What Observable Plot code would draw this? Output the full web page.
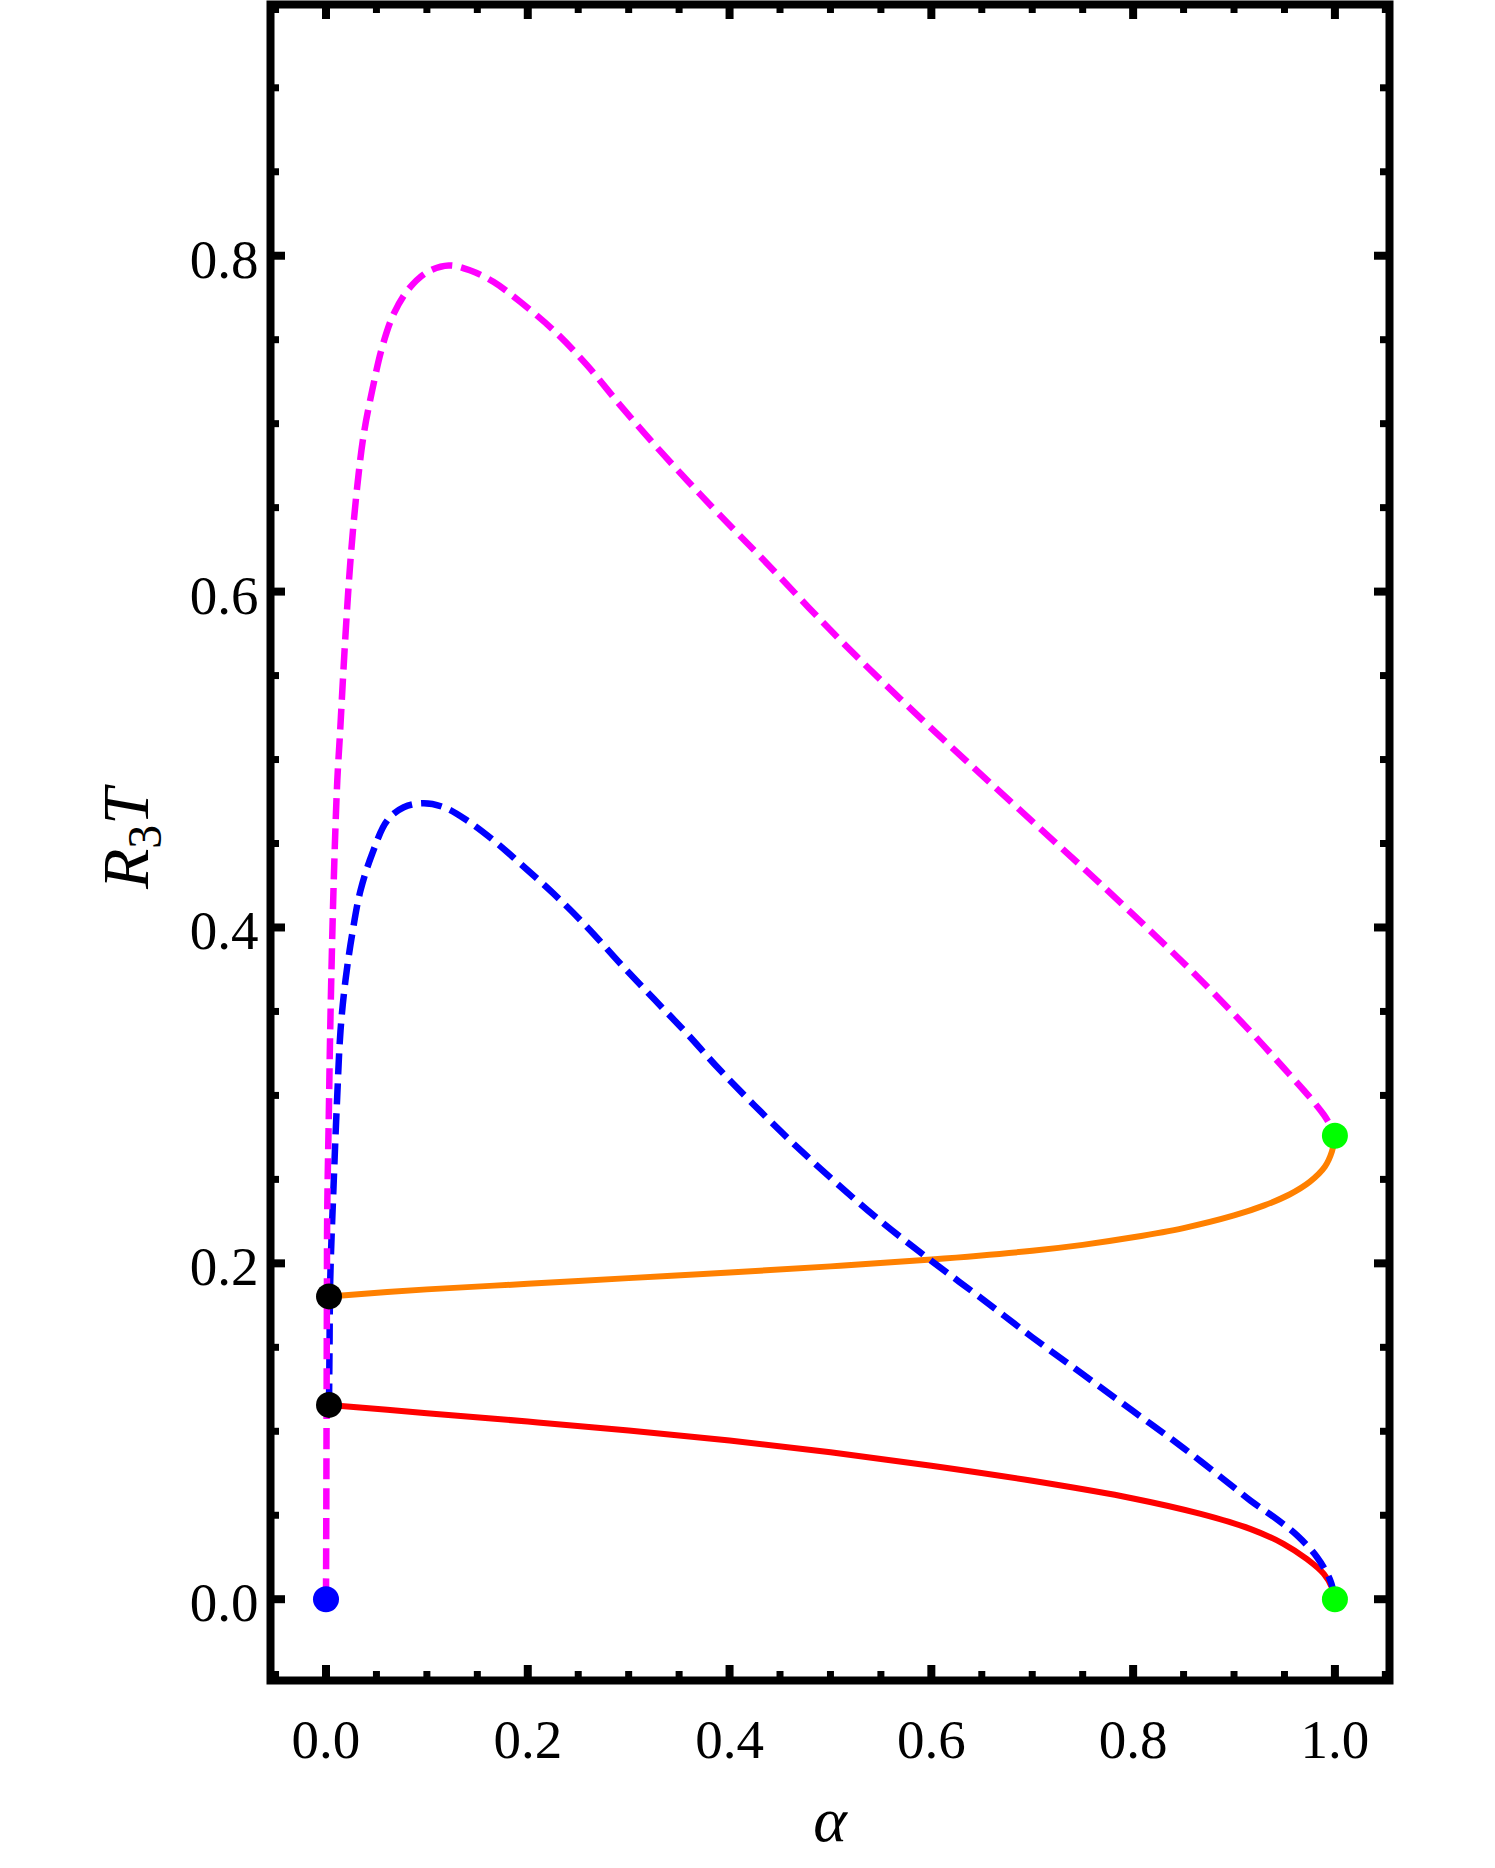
<!DOCTYPE html>
<html>
<head>
<meta charset="utf-8">
<script src="https://cdn.jsdelivr.net/npm/d3@7"></script>
<script src="https://cdn.jsdelivr.net/npm/@observablehq/plot@0.6"></script>
<style>
  html, body { margin: 0; padding: 0; background: #ffffff; }
  #chart svg { display: block; }
</style>
</head>
<body>
<div id="chart"></div>
<script>
// ---- Data ----
const magentaX = [0, 0.0003, 0.0006, 0.0009, 0.0012, 0.0028, 0.0045, 0.0077, 0.0112, 0.0136, 0.0190, 0.0245, 0.0309, 0.0375, 0.0458, 0.0557, 0.0672, 0.0821, 0.1003, 0.1217, 0.1432, 0.1663, 0.1928, 0.2258, 0.2589, 0.2919, 0.3249, 0.3580, 0.3893, 0.4373, 0.5033, 0.5694, 0.6355, 0.7015, 0.7676, 0.8336, 0.8667, 0.9163, 0.9493, 0.9757, 0.9889, 0.9965, 1.0];
const magentaY = [0, 0.05, 0.116, 0.18, 0.2295, 0.289, 0.3486, 0.428, 0.4875, 0.5124, 0.571, 0.6205, 0.6622, 0.694, 0.7198, 0.7456, 0.7655, 0.7803, 0.7902, 0.7942, 0.7912, 0.7843, 0.7724, 0.7555, 0.7347, 0.7108, 0.688, 0.6662, 0.6463, 0.6166, 0.5750, 0.5360, 0.4987, 0.4624, 0.4260, 0.3884, 0.3689, 0.3381, 0.3163, 0.2985, 0.2885, 0.2810, 0.276];

const blueX = [0.003, 0.0035, 0.0042, 0.0077, 0.0111, 0.0144, 0.0193, 0.026, 0.0342, 0.0458, 0.0607, 0.0771, 0.0969, 0.1168, 0.1399, 0.1663, 0.1928, 0.2258, 0.2589, 0.2919, 0.3249, 0.358, 0.391, 0.45, 0.5, 0.55, 0.6, 0.65, 0.7, 0.75, 0.8, 0.85, 0.9, 0.9163, 0.9427, 0.9625, 0.9823, 0.9955, 1.0];
const blueY = [0.116, 0.15, 0.19, 0.2493, 0.299, 0.3387, 0.3685, 0.3962, 0.422, 0.4439, 0.4637, 0.4716, 0.474, 0.4716, 0.4637, 0.4518, 0.4379, 0.42, 0.4002, 0.3784, 0.3575, 0.3367, 0.3148, 0.279, 0.251, 0.225, 0.2015, 0.179, 0.156, 0.134, 0.112, 0.09, 0.0665, 0.0587, 0.0475, 0.038, 0.025, 0.0111, 0];

const orangeX = [0.003, 0.1, 0.2, 0.3, 0.4, 0.5, 0.6, 0.7, 0.75, 0.8, 0.85, 0.9, 0.93, 0.955, 0.975, 0.99, 0.997, 1.0];
const orangeY = [0.1803, 0.1845, 0.1878, 0.1912, 0.1945, 0.1982, 0.2023, 0.2075, 0.2110, 0.2155, 0.2210, 0.2285, 0.2345, 0.2410, 0.2485, 0.2575, 0.2665, 0.276];

const redX = [0.003, 0.1, 0.2, 0.3, 0.4, 0.5, 0.6, 0.7, 0.8, 0.867, 0.916, 0.949, 0.972, 0.989, 0.997, 1.0];
const redY = [0.1157, 0.1108, 0.1058, 0.1005, 0.0945, 0.0875, 0.0795, 0.0705, 0.06, 0.0508, 0.0419, 0.033, 0.024, 0.0151, 0.0071, 0];

const pointX = [0, 0.003, 0.003, 1.0, 1.0];
const pointY = [0, 0.1803, 0.1157, 0.276, 0];
const pointColor = ["#0000ff", "#000000", "#000000", "#00ff00", "#00ff00"];

const xMajor = [0, 0.2, 0.4, 0.6, 0.8, 1.0];
const xMinor = [-0.05, 0.05, 0.1, 0.15, 0.25, 0.3, 0.35, 0.45, 0.5, 0.55, 0.65, 0.7, 0.75, 0.85, 0.9, 0.95, 1.05];
const yMajor = [0, 0.2, 0.4, 0.6, 0.8];
const yMinor = [0.05, 0.1, 0.15, 0.25, 0.3, 0.35, 0.45, 0.5, 0.55, 0.65, 0.7, 0.75, 0.85, 0.9];
const xTickLabels = ["0.0", "0.2", "0.4", "0.6", "0.8", "1.0"];
const yTickLabels = ["0.0", "0.2", "0.4", "0.6", "0.8"];

// ---- Layout ----
const W = 1495, H = 1868;
const mL = 270, mR = 106, mT = 4, mB = 188;
const plotW = W - mL - mR, plotH = H - mT - mB;
const font = "'Liberation Serif', 'Times New Roman', serif";

const rows = (xs, ys) => xs.map((x, i) => ({x, y: ys[i]}));
const pts = pointX.map((x, i) => ({x, y: pointY[i], c: pointColor[i]}));
const MAJ = 15, MIN = 9;

const chart = Plot.plot({
  width: W,
  height: H,
  marginLeft: mL, marginRight: mR, marginTop: mT, marginBottom: mB,
  x: {domain: [-0.0550, 1.0541], axis: null},
  y: {domain: [-0.0484, 0.9496], axis: null},
  style: {fontFamily: font, background: "#ffffff", overflow: "visible"},
  marks: [
    Plot.line(rows(redX, redY), {x: "x", y: "y", stroke: "#ff0000", strokeWidth: 6, curve: "catmull-rom"}),
    Plot.line(rows(orangeX, orangeY), {x: "x", y: "y", stroke: "#ff8000", strokeWidth: 6, curve: "catmull-rom"}),
    Plot.line(rows(blueX, blueY), {x: "x", y: "y", stroke: "#0000ff", strokeWidth: 6.5, strokeDasharray: "21,9", strokeLinecap: "butt", curve: "catmull-rom"}),
    Plot.line(rows(magentaX, magentaY), {x: "x", y: "y", stroke: "#ff00ff", strokeWidth: 6.5, strokeDasharray: "21,9", strokeLinecap: "butt", curve: "catmull-rom"}),
    Plot.dot(pts, {x: "x", y: "y", r: 13, fill: "c", stroke: "none"}),
    // inward ticks: bottom / top
    Plot.tickX(xMajor, {x: d => d, stroke: "#000", strokeWidth: 8, strokeLinecap: "butt", insetTop: plotH - MAJ}),
    Plot.tickX(xMinor, {x: d => d, stroke: "#000", strokeWidth: 7, strokeLinecap: "butt", insetTop: plotH - MIN}),
    Plot.tickX(xMajor, {x: d => d, stroke: "#000", strokeWidth: 8, strokeLinecap: "butt", insetBottom: plotH - MAJ}),
    Plot.tickX(xMinor, {x: d => d, stroke: "#000", strokeWidth: 7, strokeLinecap: "butt", insetBottom: plotH - MIN}),
    // inward ticks: left / right
    Plot.tickY(yMajor, {y: d => d, stroke: "#000", strokeWidth: 8, strokeLinecap: "butt", insetRight: plotW - MAJ}),
    Plot.tickY(yMinor, {y: d => d, stroke: "#000", strokeWidth: 7, strokeLinecap: "butt", insetRight: plotW - MIN}),
    Plot.tickY(yMajor, {y: d => d, stroke: "#000", strokeWidth: 8, strokeLinecap: "butt", insetLeft: plotW - MAJ}),
    Plot.tickY(yMinor, {y: d => d, stroke: "#000", strokeWidth: 7, strokeLinecap: "butt", insetLeft: plotW - MIN}),
    Plot.frame({stroke: "#000", strokeWidth: 8}),
    // tick labels
    Plot.text(xMajor, {x: d => d, text: (d, i) => xTickLabels[i], frameAnchor: "bottom", lineAnchor: "bottom", dy: 77, fontSize: 55, fill: "#000"}),
    Plot.text(yMajor, {y: d => d, text: (d, i) => yTickLabels[i], frameAnchor: "left", lineAnchor: "bottom", textAnchor: "end", dx: -12, dy: 22, fontSize: 55, fill: "#000"}),
    // axis labels
    Plot.text(["α"], {frameAnchor: "bottom", lineAnchor: "bottom", dy: 160, fontSize: 64, fontStyle: "italic", fill: "#000"}),
    Plot.text(["R3T"], {frameAnchor: "left", rotate: -90, lineAnchor: "bottom", textAnchor: "middle", dx: -123, dy: -4, fontSize: 66, fontStyle: "italic", fill: "#000", className: "ylabel"})
  ]
});

document.getElementById("chart").appendChild(chart);

// subscript in the y label
d3.select(chart).selectAll("g.ylabel text").each(function () {
  const t = d3.select(this);
  t.text(null);
  t.append("tspan").text("R");
  t.append("tspan").attr("font-style", "normal").attr("font-size", 48).attr("dy", 13).text("3");
  t.append("tspan").attr("dy", -13).text("T");
});
</script>
</body>
</html>
